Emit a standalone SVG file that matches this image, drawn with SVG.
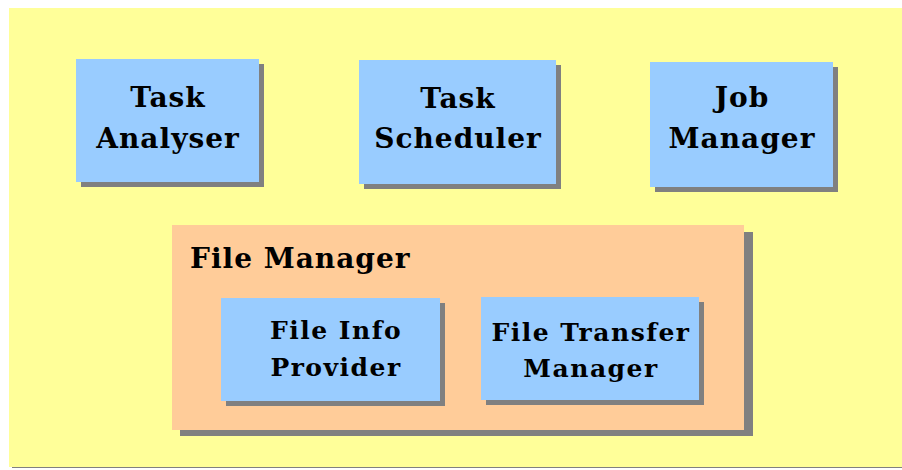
<svg xmlns="http://www.w3.org/2000/svg" width="902" height="470" viewBox="0 0 902 470">
<style>
.bg{fill:#FFFF99}
.box{fill:#99CCFF}
.grp{fill:#FFCC99}
.sh{fill:#808080}
.t{font-family:"DejaVu Serif","Liberation Serif",serif;font-weight:bold;fill:#000;text-anchor:middle}
.big{font-size:28px;letter-spacing:1px}
.small{font-size:25px;letter-spacing:1.5px}
</style>
<rect x="0" y="0" width="902" height="470" fill="#FFFFFF"/>
<rect class="sh" x="12" y="466" width="890" height="2"/>
<rect class="bg" x="9" y="8" width="893" height="459"/>
<g id="task-analyser">
<rect class="sh" x="81" y="64" width="183" height="123"/>
<rect class="box" x="76" y="59" width="183" height="123"/>
<text class="t big" x="168" y="107">Task</text>
<text class="t big" x="168" y="148">Analyser</text>
</g>
<g id="task-scheduler">
<rect class="sh" x="364" y="65" width="197" height="124"/>
<rect class="box" x="359" y="60" width="197" height="124"/>
<text class="t big" x="458" y="108">Task</text>
<text class="t big" x="458" y="148">Scheduler</text>
</g>
<g id="job-manager">
<rect class="sh" x="655" y="67" width="183" height="125"/>
<rect class="box" x="650" y="62" width="183" height="125"/>
<text class="t big" x="742" y="107">Job</text>
<text class="t big" x="742" y="148">Manager</text>
</g>
<g id="file-manager">
<rect class="sh" x="180" y="232" width="573" height="204"/>
<rect class="grp" x="172" y="225" width="572" height="205"/>
<text class="t big" x="190" y="268" style="text-anchor:start">File Manager</text>
<g id="file-info-provider">
<rect class="sh" x="226" y="303" width="219" height="103"/>
<rect class="box" x="221" y="298" width="219" height="103"/>
<text class="t small" x="336" y="339">File Info</text>
<text class="t small" x="336" y="376">Provider</text>
</g>
<g id="file-transfer-manager">
<rect class="sh" x="486" y="302" width="218" height="103"/>
<rect class="box" x="481" y="297" width="218" height="103"/>
<text class="t small" x="591" y="341">File Transfer</text>
<text class="t small" x="591" y="377">Manager</text>
</g>
</g>
<g id="connectors"></g>
</svg>
